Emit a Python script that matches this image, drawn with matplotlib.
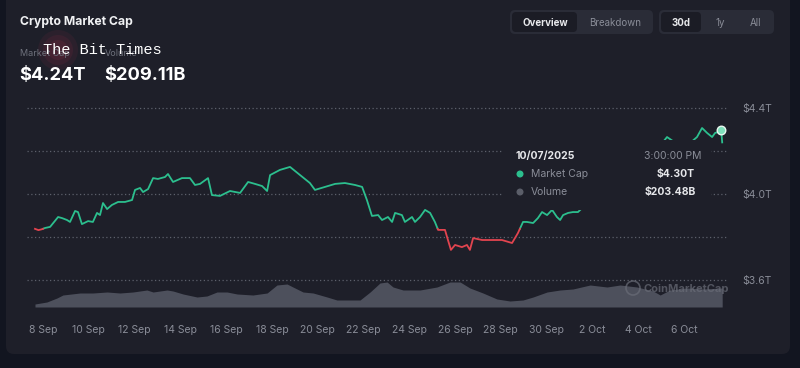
import numpy as np
import matplotlib
matplotlib.use("Agg")
import matplotlib.pyplot as plt
import matplotlib.dates as mdates
from matplotlib.patches import FancyBboxPatch, Circle
from datetime import datetime, timedelta

plt.rcParams['font.family'] = ['Inter', 'DejaVu Sans']

# ---------------- data ----------------
base_date = datetime(2025, 9, 8)
# days since 8 Sep 00:00 and market cap in trillions USD
mcap_days = [-0.35, -0.2, -0.05, 0.09, 0.31, 0.66, 0.83, 1.05, 1.18, 1.40, 1.53, 1.70, 1.97,
             2.18, 2.36, 2.49, 2.62, 2.80, 3.01, 3.28, 3.58, 3.89, 4.02, 4.24, 4.37, 4.59,
             4.81, 5.02, 5.33, 5.46, 5.68, 6.07, 6.42, 6.64, 6.86, 7.21, 7.38, 7.73, 8.17,
             8.61, 8.96, 9.26, 9.57, 9.79, 9.92, 10.35, 10.79, 11.23, 11.66, 11.88, 12.32,
             12.76, 13.19, 13.63, 13.94, 14.15, 14.37, 14.64, 14.81, 15.07, 15.25, 15.38,
             15.68, 15.81, 16.12, 16.25, 16.47, 16.69, 16.91, 17.12, 17.26, 17.56, 17.69,
             17.82, 18.00, 18.30, 18.52, 18.65, 18.79, 19.18, 19.62, 20.05, 20.49, 20.75,
             20.97, 21.14, 21.41, 21.62, 21.80, 22.02, 22.24, 22.45, 22.59, 22.72, 22.94,
             23.15, 23.37, 23.7, 24.0, 24.3, 24.7, 25.0, 25.4, 25.8, 26.2, 26.6, 27.0,
             27.26, 27.6, 28.0, 28.3, 28.57, 28.79, 29.01, 29.23, 29.36, 29.49, 29.625, 29.67]
mcap_values = [3.838, 3.832, 3.836, 3.842, 3.847, 3.893, 3.888, 3.879, 3.870, 3.921, 3.916,
               3.860, 3.874, 3.870, 3.912, 3.902, 3.958, 3.930, 3.949, 3.963, 3.963, 3.972,
               4.019, 4.028, 4.009, 4.023, 4.074, 4.070, 4.079, 4.093, 4.056, 4.074, 4.074,
               4.042, 4.047, 4.074, 3.995, 3.991, 4.014, 4.005, 4.056, 4.047, 4.037, 4.014,
               4.088, 4.112, 4.126, 4.088, 4.051, 4.019, 4.033, 4.047, 4.051, 4.042, 4.033,
               3.972, 3.898, 3.902, 3.879, 3.893, 3.870, 3.912, 3.902, 3.870, 3.893, 3.870,
               3.893, 3.926, 3.912, 3.870, 3.833, 3.833, 3.786, 3.740, 3.763, 3.753, 3.763,
               3.740, 3.795, 3.786, 3.786, 3.786, 3.772, 3.819, 3.870, 3.870, 3.865, 3.888,
               3.916, 3.902, 3.926, 3.893, 3.879, 3.902, 3.912, 3.916, 3.916, 3.95, 4.00,
               4.03, 4.06, 4.10, 4.13, 4.16, 4.19, 4.21, 4.23, 4.265, 4.24, 4.22, 4.24,
               4.265, 4.307, 4.284, 4.265, 4.284, 4.288, 4.300, 4.240]
# volume in billions USD
vol_days = [-0.35, 0.17, 0.61, 0.87, 1.62, 2.18, 2.80, 3.36, 3.93, 4.54, 4.81, 5.42, 5.68,
            6.12, 6.73, 7.16, 7.60, 8.04, 8.48, 9.17, 9.79, 10.22, 10.66, 10.92, 11.36,
            11.80, 12.41, 12.84, 13.41, 13.85, 14.29, 14.72, 15.03, 15.29, 15.73, 16.47,
            17.21, 17.78, 18.22, 18.65, 19.22, 19.83, 20.40, 20.97, 21.41, 22.02, 22.59,
            23.15, 23.90, 24.64, 25.21, 25.95, 26.65, 26.96, 27.39, 28.13, 28.83, 29.67]
vol_values = [99.5, 112.5, 138.5, 158, 171, 171, 177.5, 171, 177.5, 190.5, 177.5, 190.5, 184,
              164.5, 145, 151.5, 177.5, 177.5, 164.5, 158, 171, 223, 229.5, 210, 177.5,
              171, 145, 125.5, 125.5, 125.5, 177.5, 236, 242.5, 210, 190.5, 190.5,
              210, 242.5, 242.5, 203.5, 171, 132, 119, 125.5, 145, 177.5, 190.5,
              197, 223, 210, 223, 210, 184, 158, 190.5, 203.5, 197, 203.5]
y_ticks_major = [3.6, 4.0, 4.4]
y_ticks_minor = [3.8, 4.2]
x_tick_days = list(range(0, 29, 2))
tooltip_day = 29.625
tooltip_value = 4.30
header_mcap = "$4.24T"
header_vol = "$209.11B"

# ---------------- styling ----------------
W, H = 800, 368
BG_OUT = "#121520"
PANEL = "#1e1f29"
GREEN = "#2cbf8e"
RED = "#e2444f"
GRID = "#5d606b"
MUTED = "#8a8d98"
VOLC = "#4d505c"

fig = plt.figure(figsize=(W / 100, H / 100), dpi=100)
fig.patch.set_facecolor(BG_OUT)

def fx(x):
    return x / W

def fy(y):
    return 1 - y / H

# background overlay in pixel coords
bg = fig.add_axes([0, 0, 1, 1], zorder=0)
bg.set_xlim(0, W); bg.set_ylim(H, 0); bg.axis("off")
bg.add_patch(FancyBboxPatch((6, -10), 784, 364, boxstyle="round,pad=0,rounding_size=8",
                            fc=PANEL, ec="none"))

# main axes
x0, x1 = 27, 727
ay0, ay1 = 100, 310
ax = fig.add_axes([fx(x0), fy(ay1), (x1 - x0) / W, (ay1 - ay0) / H], zorder=2)
ax.set_facecolor("none")
to_num = lambda d: mdates.date2num(base_date) + np.asarray(d, dtype=float)
t = to_num(mcap_days)
v = np.asarray(mcap_values)
ax.set_xlim(to_num(-0.699), to_num(29.88))
ax.set_ylim(4.0 + (194 - ay1) / 215, 4.0 + (194 - ay0) / 215)

# colour by comparison with the first value
baseline = v[0]
ts, vs = [t[0]], [v[0]]
for i in range(1, len(t)):
    a, b = v[i - 1] - baseline, v[i] - baseline
    if a * b < 0:
        f = a / (a - b)
        ts.append(t[i - 1] + f * (t[i] - t[i - 1])); vs.append(baseline)
    ts.append(t[i]); vs.append(v[i])
ts, vs = np.array(ts), np.array(vs)
above = np.ma.masked_where(vs < baseline - 1e-9, vs)
below = np.ma.masked_where(vs > baseline + 1e-9, vs)
ax.plot(ts, above, color=GREEN, lw=1.3, solid_joinstyle="round", zorder=3)
ax.plot(ts, below, color=RED, lw=1.3, solid_joinstyle="round", zorder=3)

ax.set_yticks(y_ticks_major)
ax.set_yticks(y_ticks_minor, minor=True)
ax.set_yticklabels([f"${y:.1f}T" for y in y_ticks_major])
ax.yaxis.tick_right()
ax.tick_params(axis="y", which="both", length=0, pad=11, labelsize=7.5, labelcolor=MUTED)
ax.grid(axis="y", which="both", color=GRID, lw=0.9, linestyle=(0, (1, 2)))
xt = [base_date + timedelta(days=d) for d in x_tick_days]
ax.set_xticks(mdates.date2num(xt))
ax.set_xticklabels([f"{d.day} {d:%b}" for d in xt])
ax.tick_params(axis="x", length=0, pad=11, labelsize=7.5, labelcolor=MUTED)
for s in ax.spines.values():
    s.set_visible(False)
ax.scatter([to_num(tooltip_day)], [tooltip_value], s=38, color="#7fe0bb",
           edgecolor="#e8f7f0", lw=1.0, zorder=6)

# volume axes
vy0, vy1 = 278, 307
vax = fig.add_axes([fx(x0), fy(vy1), (x1 - x0) / W, (vy1 - vy0) / H], zorder=1, sharex=ax)
vax.set_facecolor("none")
vax.set_ylim(80, 80 + (vy1 - vy0) * 6.5)
vax.fill_between(to_num(vol_days), 80, vol_values, color=VOLC, lw=0)
vax.axis("off")

# foreground overlay
fg = fig.add_axes([0, 0, 1, 1], zorder=5)
fg.set_xlim(0, W); fg.set_ylim(H, 0); fg.axis("off"); fg.set_facecolor("none")

# tooltip
fg.add_patch(FancyBboxPatch((503, 140), 208, 70, boxstyle="round,pad=0,rounding_size=4",
                            fc=PANEL, ec="none"))
fg.text(516, 156, "10/07/2025", color="#e6e7ea", fontsize=7.5, fontweight="bold", va="center")
fg.text(701, 156, "3:00:00 PM", color=MUTED, fontsize=7.5, va="center", ha="right")
fg.add_patch(Circle((520, 174), 2.8, color=GREEN))
fg.text(531, 174, "Market Cap", color=MUTED, fontsize=7.5, va="center")
fg.text(695, 174, f"${tooltip_value:.2f}T", color="#e6e7ea", fontsize=7.5,
        fontweight="bold", va="center", ha="right")
fg.add_patch(Circle((520, 192), 2.8, color="#5b5e69"))
fg.text(531, 192, "Volume", color=MUTED, fontsize=7.5, va="center")
fg.text(696, 192, "$203.48B", color="#e6e7ea", fontsize=7.5,
        fontweight="bold", va="center", ha="right")

# coinmarketcap watermark
fg.add_patch(Circle((633, 288), 7, fc="none", ec="#6a6d78", lw=1.2, alpha=0.7))
fg.text(644, 289, "CoinMarketCap", color="#6a6d78", fontsize=8, va="center",
        fontweight="bold", alpha=0.7)

# header
fg.text(20, 22, "Crypto Market Cap", color="#f0f1f3", fontsize=8.8, fontweight="bold", va="center")
for r, a in [(20, 0.10), (15, 0.12), (10, 0.14)]:
    fg.add_patch(Circle((58, 50), r, color="#a0304a", alpha=a, lw=0))
fg.text(20, 53, "Market Cap", color="#6e717c", fontsize=6.5, va="center")
fg.text(105, 53, "Volume", color="#6e717c", fontsize=6.5, va="center")
fg.text(43, 50, "The Bit Times", color="#ffffff", fontsize=11, va="center",
        family=["Liberation Mono", "DejaVu Sans Mono"])
fg.text(19, 75, header_mcap, color="#ffffff", fontsize=13.2, fontweight="bold", va="center")
fg.text(104, 75, header_vol, color="#ffffff", fontsize=13.2, fontweight="bold", va="center")

# buttons
fg.add_patch(FancyBboxPatch((510, 10), 143, 24, boxstyle="round,pad=0,rounding_size=5",
                            fc="#2a2c37", ec="none"))
fg.add_patch(FancyBboxPatch((512, 12), 65, 20, boxstyle="round,pad=0,rounding_size=4",
                            fc="#1b1c25", ec="none"))
fg.text(545, 22.5, "Overview", color="#e8e9ec", fontsize=7, fontweight="bold", ha="center", va="center")
fg.text(615, 22.5, "Breakdown", color=MUTED, fontsize=7, ha="center", va="center")
fg.add_patch(FancyBboxPatch((659, 10), 115, 24, boxstyle="round,pad=0,rounding_size=5",
                            fc="#2a2c37", ec="none"))
fg.add_patch(FancyBboxPatch((661, 12), 40, 20, boxstyle="round,pad=0,rounding_size=4",
                            fc="#1b1c25", ec="none"))
fg.text(681, 22.5, "30d", color="#e8e9ec", fontsize=7, fontweight="bold", ha="center", va="center")
fg.text(720, 22.5, "1y", color=MUTED, fontsize=7, ha="center", va="center")
fg.text(756, 22.5, "All", color=MUTED, fontsize=7, ha="center", va="center")

fig.savefig("out.png", dpi=100, facecolor=fig.get_facecolor())
